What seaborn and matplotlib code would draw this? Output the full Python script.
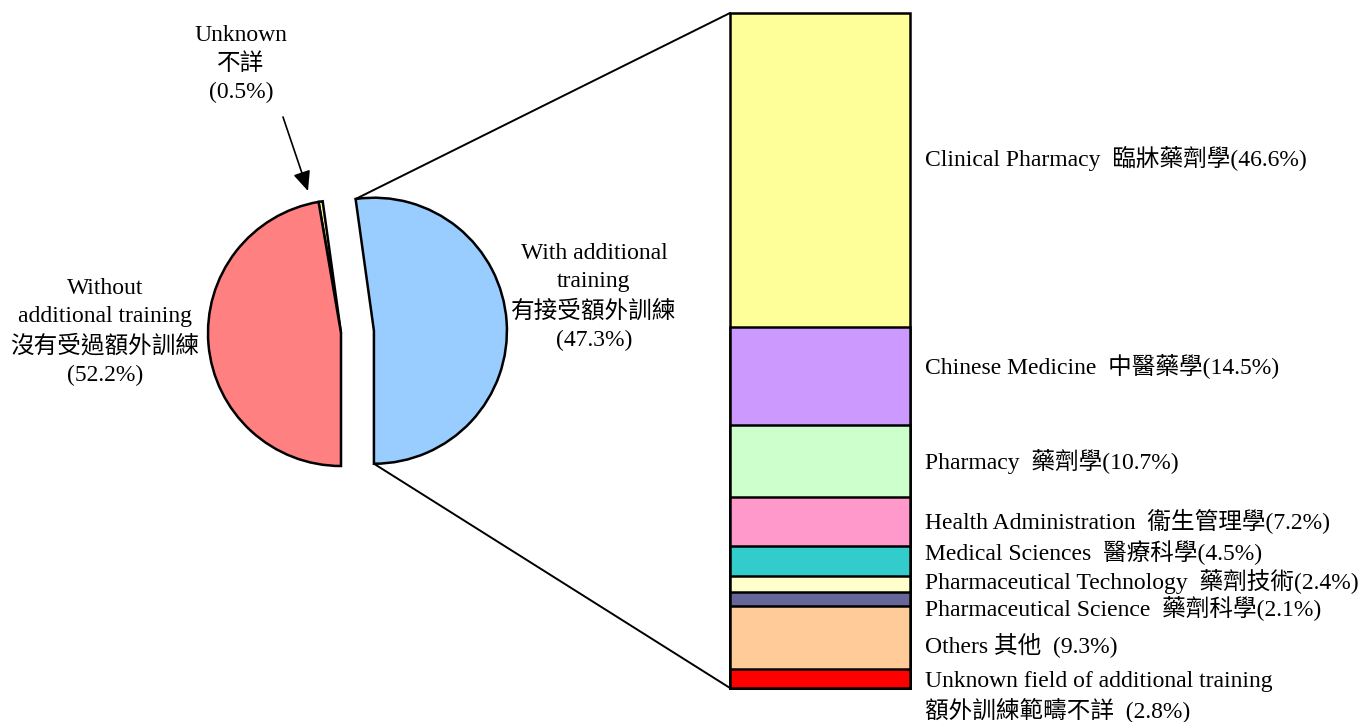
import matplotlib
matplotlib.use("Agg")
import matplotlib.pyplot as plt
from matplotlib.patches import ConnectionPatch
import seaborn as sns
import pandas as pd
import numpy as np

# ---------------- data ----------------
# pie slices as drawn (counter-clockwise from the bottom): exploded blue, yellow sliver, red
pie_values = [52.2, 0.5, 47.3]
pie_colors = ["#99CCFF", "#FFFF99", "#FF8080"]

pie_label_with = "With additional\ntraining\n有接受額外訓練\n(47.3%)"
pie_label_without = "Without\nadditional training\n沒有受過額外訓練\n(52.2%)"
pie_label_unknown = "Unknown\n不詳\n(0.5%)"

# stacked bar, top to bottom
fields = [
    "Clinical Pharmacy  臨牀藥劑學(46.6%)",
    "Chinese Medicine  中醫藥學(14.5%)",
    "Pharmacy  藥劑學(10.7%)",
    "Health Administration  衞生管理學(7.2%)",
    "Medical Sciences  醫療科學(4.5%)",
    "Pharmaceutical Technology  藥劑技術(2.4%)",
    "Pharmaceutical Science  藥劑科學(2.1%)",
    "Others 其他  (9.3%)",
    "Unknown field of additional training\n額外訓練範疇不詳  (2.8%)",
]
field_values = [46.6, 14.5, 10.7, 7.2, 4.5, 2.4, 2.1, 9.3, 2.8]
field_colors = ["#FFFF99", "#CC99FF", "#CCFFCC", "#FF99CC", "#33CCCC",
                "#FFFFCC", "#666699", "#FFCC99", "#FF0000"]

# ---------------- style ----------------
sns.set_theme(style="white")
FAM = ["Liberation Serif", "Noto Sans CJK TC", "DejaVu Sans"]
plt.rcParams["font.family"] = FAM
plt.rcParams["text.color"] = "black"
FS = 17
LS = 1.45

W, H = 1370, 722
fig = plt.figure(figsize=(W / 100, H / 100), dpi=100)
ax = fig.add_axes([0, 0, 1, 1])


def Y(p):
    return H - p


# ---------------- pie ----------------
R = 133
wedges, _ = ax.pie(pie_values, colors=pie_colors, startangle=-90, counterclock=True,
                   explode=[33, 0, 0], center=(341, Y(333)), radius=R, frame=True,
                   wedgeprops=dict(edgecolor="black", linewidth=1.8))
ax.set_xlim(0, W)
ax.set_ylim(0, H)
ax.set_aspect("equal")
ax.axis("off")

kw = dict(fontsize=FS, linespacing=LS, family=FAM, color="black")
ax.text(594, Y(297), pie_label_with, ha="center", va="center", **kw)
ax.text(105, Y(332), pie_label_without, ha="center", va="center", **kw)
ax.text(241, Y(64), pie_label_unknown, ha="center", va="center", **kw)
ax.annotate("", xy=(308, Y(191)), xytext=(283, Y(117)),
            arrowprops=dict(arrowstyle="-|>,head_length=0.5,head_width=0.22",
                            color="black", lw=1.2, mutation_scale=24,
                            shrinkA=0, shrinkB=0))

# ---------------- stacked bar ----------------
bx0, bx1, by0, by1 = 730, 910, 13, 688
bax = fig.add_axes([bx0 / W, (H - by1) / H, (bx1 - bx0) / W, (by1 - by0) / H])
cum = []
running = 0.0
for v in reversed(field_values):
    running += v
    cum.append(running)
cum = list(reversed(cum))  # cumulative top of each segment, top segment first
df = pd.DataFrame({"pos": ["bar"] * len(fields), "top": cum, "field": fields})
sns.barplot(data=df, x="pos", y="top", hue="field", hue_order=fields,
            palette=dict(zip(fields, field_colors)), dodge=False, width=1.0,
            saturation=1, edgecolor="black", linewidth=1.8, legend=False, ax=bax)
total = cum[0]
bax.set_xlim(-0.5, 0.5)
bax.set_ylim(0, total)
bax.axis("off")
for p in bax.patches:
    p.set_clip_on(False)

label_y = [158, 366, 462, 522, 553, 582, 608, 645, 697]
for txt, yy in zip(fields, label_y):
    ax.text(925, Y(yy), txt, ha="left", va="center",
            **dict(kw, linespacing=1.3 if "\n" in txt else LS))

# ---------------- connector lines ----------------
w = wedges[0]
cx, cy = w.center
top_pt = (cx + w.r * np.cos(np.radians(w.theta2)), cy + w.r * np.sin(np.radians(w.theta2)))
bot_pt = (cx + w.r * np.cos(np.radians(w.theta1)), cy + w.r * np.sin(np.radians(w.theta1)))
for pt, yb in [(top_pt, total), (bot_pt, 0)]:
    con = ConnectionPatch(xyA=pt, coordsA=ax.transData, xyB=(-0.5, yb),
                          coordsB=bax.transData, color="black", lw=1.4)
    fig.add_artist(con)

fig.savefig("out.png", dpi=100)
